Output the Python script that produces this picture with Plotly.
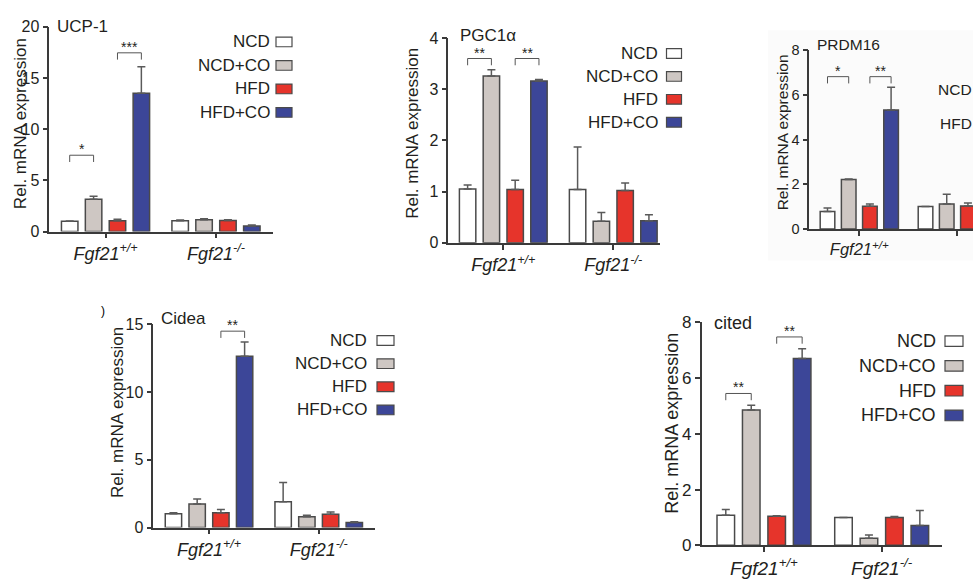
import plotly.graph_objects as go

W, H = 973, 584

# ---------------- data ----------------
series = ["NCD", "NCD+CO", "HFD", "HFD+CO"]
group_labels = ["<i>Fgf21</i><sup><i>+/+</i></sup>", "<i>Fgf21</i><sup><i>-/-</i></sup>"]
group_index = [0, 1]

# means / SEM per series (rows) for [Fgf21+/+, Fgf21-/-]
ucp1_mean = [[1.00, 1.05], [3.15, 1.16], [1.04, 1.07], [13.5, 0.54]]
ucp1_sem = [[0.03, 0.08], [0.30, 0.09], [0.16, 0.08], [2.60, 0.09]]
ucp1_ticks = [0, 5, 10, 15, 20]
ucp1_sig = [(0, 1, 0, 7.45, "*"), (2, 3, 0, 17.45, "***")]

pgc_mean = [[1.05, 1.04], [3.26, 0.42], [1.04, 1.02], [3.16, 0.43]]
pgc_sem = [[0.08, 0.83], [0.12, 0.17], [0.18, 0.15], [0.03, 0.12]]
pgc_ticks = [0, 1, 2, 3, 4]
pgc_sig = [(0, 1, 0, 3.60, "**"), (2, 3, 0, 3.60, "**")]

prdm_mean = [[0.78, 1.00], [2.21, 1.11], [1.01, 1.03], [5.33, 0.90]]
prdm_sem = [[0.16, 0.00], [0.03, 0.44], [0.10, 0.13], [1.02, 0.20]]
prdm_ticks = [0, 2, 4, 6, 8]
prdm_sig = [(0, 1, 0, 6.82, "*"), (2, 3, 0, 6.82, "**")]

cidea_mean = [[1.02, 1.90], [1.74, 0.79], [1.10, 0.98], [12.64, 0.38]]
cidea_sem = [[0.08, 1.43], [0.36, 0.11], [0.23, 0.16], [1.06, 0.05]]
cidea_ticks = [0, 5, 10, 15]
cidea_sig = [(2, 3, 0, 14.5, "**")]

cited_mean = [[1.08, 1.00], [4.86, 0.25], [1.04, 1.00], [6.71, 0.71]]
cited_sem = [[0.20, 0.00], [0.17, 0.12], [0.02, 0.03], [0.35, 0.54]]
cited_ticks = [0, 2, 4, 6, 8]
cited_sig = [(0, 1, 0, 5.45, "**"), (2, 3, 0, 7.48, "**")]

# ---------------- style ----------------
fills = ["#ffffff", "#cec7c3", "#e6342b", "#3c4698"]
edge = "#4a4a4a"
axis_col = "#3a3a3a"
txt_col = "#231f20"
FONT = "Arial, Liberation Sans, sans-serif"
BARGAP = 0.135
GROUPGAP = 0.31

panels = [
    dict(title="UCP-1", mean=ucp1_mean, sem=ucp1_sem, ticks=ucp1_ticks, sig=ucp1_sig,
         box=(49.3, 273, 18.3, 230), xr=(-0.509, 1.516), fs=16,
         tpos=(55, 18.3), ytpos=(20, 119), leg=dict(tr=272, bl=276, bw=16, bh=10, y0=34, dy=24.3, names=series)),
    dict(title="PGC1α", mean=pgc_mean, sem=pgc_sem, ticks=pgc_ticks, sig=pgc_sig,
         box=(448.3, 660, 30, 241.7), xr=(-0.5, 1.425), fs=16,
         tpos=(458, 27), ytpos=(413, 129), leg=dict(tr=660, bl=666.5, bw=15, bh=10, y0=46, dy=23.7, names=series)),
    dict(title="PRDM16", mean=prdm_mean, sem=prdm_sem, ticks=prdm_ticks, sig=prdm_sig,
         box=(809.3, 973, 42.7, 227.3), xr=(-0.51, 1.16), fs=14.5,
         tpos=(815, 36.7), ytpos=(782, 127.5), leg=dict(tr=974, bl=None, bw=15, bh=10, y0=82.7, dy=35.3, names=["NCD", "HFD"])),
    dict(title="Cidea", mean=cidea_mean, sem=cidea_sem, ticks=cidea_ticks, sig=cidea_sig,
         box=(153.3, 375, 326, 536), xr=(-0.508, 1.513), fs=16,
         tpos=(159, 320), ytpos=(118, 417.5), leg=dict(tr=369.3, bl=377, bw=17, bh=10, y0=342.7, dy=23.9, names=series)),
    dict(title="cited", mean=cited_mean, sem=cited_sem, ticks=cited_ticks, sig=cited_sig,
         box=(701.7, 941.7, 324, 554.3), xr=(-0.529, 1.51), fs=17,
         tpos=(711.7, 325), ytpos=(672.5, 428.3), leg=dict(tr=938.3, bl=945, bw=18, bh=11, y0=343.3, dy=25.6, names=series)),
]


def px(x):
    return x / W


def py(y):
    return 1 - y / H


def bar_center(group, i):
    slot = (1 - BARGAP) / 4
    return group - (1 - BARGAP) / 2 + (i + 0.5) * slot


fig = go.Figure()
# very faint panel background behind the PRDM16 panel
shapes = [dict(type="rect", xref="paper", yref="paper", x0=px(768), x1=1.0, y0=py(260), y1=py(22),
               fillcolor="#fbfbfb", line=dict(width=0), layer="below")]
annotations = []
layout_axes = {}

for k, p in enumerate(panels):
    n = k + 1
    xid = "x" if n == 1 else f"x{n}"
    yid = "y" if n == 1 else f"y{n}"
    x0, x1, yt, yb = p["box"]
    ymax = p["ticks"][-1]
    fs = p["fs"]
    for i, s in enumerate(series):
        fig.add_trace(go.Bar(
            x=group_index, y=p["mean"][i], name=s, showlegend=False,
            xaxis=xid, yaxis=yid,
            marker=dict(color=fills[i], line=dict(color=edge, width=1.5)),
            error_y=dict(type="data", array=p["sem"][i], arrayminus=[0, 0], symmetric=False,
                         color="#5a5a5a", thickness=1.5, width=4),
        ))
    common = dict(showline=True, linecolor=axis_col, linewidth=1.5, ticks="outside", ticklen=5,
                  tickwidth=1.5, tickcolor=axis_col, showgrid=False, zeroline=False, fixedrange=True)
    layout_axes["xaxis" if n == 1 else f"xaxis{n}"] = dict(
        domain=[px(x0), px(x1)], range=list(p["xr"]), tickvals=group_index, ticktext=group_labels,
        anchor=yid, tickfont=dict(size=fs + 2, color=txt_col, family=FONT), **common)
    layout_axes["yaxis" if n == 1 else f"yaxis{n}"] = dict(
        domain=[py(yb), py(yt)], range=[0, ymax], tickvals=p["ticks"], anchor=xid,
        tickfont=dict(size=fs, color=txt_col, family=FONT), **common)

    # significance brackets
    drop = 7 * ymax / (yb - yt)
    for (a, b, g, ytop, star) in p["sig"]:
        xa, xb = bar_center(g, a), bar_center(g, b)
        for (sx0, sy0, sx1, sy1) in [(xa, ytop - drop, xa, ytop), (xa, ytop, xb, ytop), (xb, ytop, xb, ytop - drop)]:
            shapes.append(dict(type="line", xref=xid, yref=yid, x0=sx0, y0=sy0, x1=sx1, y1=sy1,
                               line=dict(color="#555555", width=1)))
        annotations.append(dict(x=(xa + xb) / 2, y=ytop, xref=xid, yref=yid, text=star, showarrow=False,
                                xanchor="center", yanchor="bottom", yshift=-4,
                                font=dict(size=14, color=txt_col, family=FONT)))

    # panel title
    annotations.append(dict(x=px(p["tpos"][0]), y=py(p["tpos"][1]), xref="paper", yref="paper",
                            text=p["title"], showarrow=False, xanchor="left", yanchor="middle",
                            font=dict(size=fs + 1, color=txt_col, family=FONT)))
    # y title
    annotations.append(dict(x=px(p["ytpos"][0]), y=py(p["ytpos"][1]), xref="paper", yref="paper",
                            text="Rel. mRNA expression", textangle=-90, showarrow=False,
                            xanchor="center", yanchor="middle",
                            font=dict(size=fs + 1, color=txt_col, family=FONT)))
    # legend (text right, box on the right)
    L = p["leg"]
    for j, nm in enumerate(L["names"]):
        ry = L["y0"] + j * L["dy"]
        annotations.append(dict(x=px(L["tr"]), y=py(ry), xref="paper", yref="paper", text=nm,
                                showarrow=False, xanchor="right", yanchor="middle",
                                font=dict(size=fs + 1, color=txt_col, family=FONT)))
        if L["bl"] is not None:
            ci = series.index(nm)
            shapes.append(dict(type="rect", xref="paper", yref="paper",
                               x0=px(L["bl"]), x1=px(L["bl"] + L["bw"]),
                               y0=py(ry + L["bh"] / 2), y1=py(ry - L["bh"] / 2),
                               fillcolor=fills[ci], line=dict(color=edge, width=1.2)))

# remnant of panel letter
annotations.append(dict(x=px(103), y=py(312), xref="paper", yref="paper", text=")", showarrow=False,
                        xanchor="center", yanchor="middle", font=dict(size=12, color="#000000", family=FONT)))

fig.update_layout(
    width=W, height=H, margin=dict(l=0, r=0, t=0, b=0),
    paper_bgcolor="white", plot_bgcolor="rgba(0,0,0,0)",
    barmode="group", bargap=BARGAP, bargroupgap=GROUPGAP,
    font=dict(family=FONT, color=txt_col),
    shapes=shapes, annotations=annotations, **layout_axes,
)

fig.write_html("out.html")
